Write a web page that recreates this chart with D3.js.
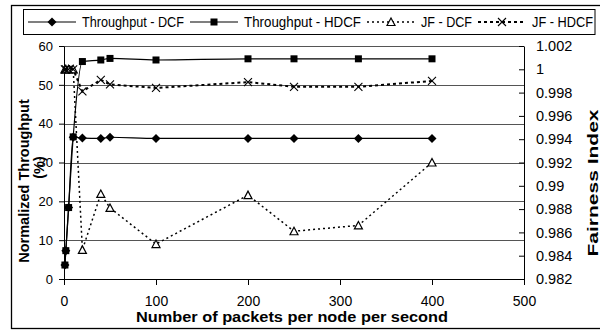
<!DOCTYPE html>
<html>
<head>
<meta charset="utf-8">
<script src="https://cdn.jsdelivr.net/npm/d3@7"></script>
<style>
  body { margin: 0; background: #fff; }
  svg text { font-family: "Liberation Sans", Arial, sans-serif; fill: #000; }
</style>
</head>
<body>
<div class="chart"></div>
<script>
// packets per node per second
var loads = [1, 2, 5, 10, 20, 40, 50, 100, 200, 250, 320, 400];
// normalized throughput (%)
var tputDCF  = [3.6, 7.3, 18.4, 36.5, 36.3, 36.2, 36.5, 36.2, 36.2, 36.2, 36.2, 36.2];
var tputHDCF = [3.6, 7.3, 18.4, 36.6, 56.0, 56.4, 56.8, 56.4, 56.7, 56.7, 56.7, 56.7];
// fairness index
var jfDCF  = [1.0, 1.0, 1.0, 1.0, 0.9845, 0.9893, 0.9881, 0.9850, 0.9892, 0.9861, 0.9866, 0.9920];
var jfHDCF = [1.0, 1.0, 1.0, 1.0, 0.9981, 0.9991, 0.9987, 0.9984, 0.9989, 0.9985, 0.9985, 0.9990];

var xTicks = [0, 100, 200, 300, 400, 500];
var leftTicks = [0, 10, 20, 30, 40, 50, 60];
var rightTicks = [0.982, 0.984, 0.986, 0.988, 0.99, 0.992, 0.994, 0.996, 0.998, 1, 1.002];
var rightTickLabels = ["0.982", "0.984", "0.986", "0.988", "0.99", "0.992", "0.994", "0.996", "0.998", "1", "1.002"];
var seriesNames = ["Throughput - DCF", "Throughput - HDCF", "JF - DCF", "JF - HDCF"];

var svg = d3.select(".chart").append("svg")
    .attr("width", 600)
    .attr("height", 331);

// outer chart frame
svg.append("rect")
    .attr("x", 11.5).attr("y", 5.5)
    .attr("width", 600).attr("height", 323)
    .attr("fill", "none").attr("stroke", "#000").attr("stroke-width", 1.3);

var x = d3.scaleLinear().domain([0, 500]).range([64, 524]);
var yL = d3.scaleLinear().domain([0, 60]).range([279, 46]);
var yR = d3.scaleLinear().domain([0.982, 1.002]).range([279, 46]);

// gridlines
svg.selectAll(".grid")
    .data(leftTicks.slice(1))
    .enter()
    .append("line")
    .attr("x1", x(0)).attr("x2", x(500))
    .attr("y1", function (d) { return Math.round(yL(d)) + 0.5; })
    .attr("y2", function (d) { return Math.round(yL(d)) + 0.5; })
    .attr("stroke", "#555").attr("stroke-width", 1);

function styleAxis(g, size) {
    g.selectAll("path, line").attr("stroke", "#000");
    g.selectAll("text").style("font-size", size + "px").attr("font-family", null);
}

svg.append("g")
    .attr("transform", "translate(" + x(0) + ",0)")
    .call(d3.axisLeft(yL).tickValues(leftTicks).tickSize(5).tickSizeOuter(0).tickPadding(6))
    .call(styleAxis, 13);

svg.append("g")
    .attr("transform", "translate(" + x(500) + ",0)")
    .call(d3.axisRight(yR).tickValues(rightTicks).tickSizeInner(-5).tickSizeOuter(0).tickPadding(12)
        .tickFormat(function (d, i) { return rightTickLabels[i]; }))
    .call(styleAxis, 14.5);

svg.append("g")
    .attr("transform", "translate(0," + yL(0) + ")")
    .call(d3.axisBottom(x).tickValues(xTicks).tickSize(6).tickSizeOuter(0).tickPadding(11))
    .call(styleAxis, 14);

// axis titles
svg.append("text")
    .attr("transform", "translate(29,181) rotate(-90)")
    .attr("text-anchor", "middle")
    .style("font-size", "14.5px").style("font-weight", "bold")
    .text("Normalized Throughput");
svg.append("text")
    .attr("transform", "translate(43.7,167.5) rotate(-90)")
    .attr("text-anchor", "middle")
    .style("font-size", "14.5px").style("font-weight", "bold")
    .text("(%)");
svg.append("text")
    .attr("transform", "translate(598,183) rotate(-90)")
    .attr("text-anchor", "middle")
    .attr("textLength", 147).attr("lengthAdjust", "spacingAndGlyphs")
    .style("font-size", "15px").style("font-weight", "bold")
    .text("Fairness Index");
svg.append("text")
    .attr("x", 292).attr("y", 321.5)
    .attr("text-anchor", "middle")
    .attr("textLength", 312).attr("lengthAdjust", "spacingAndGlyphs")
    .style("font-size", "14px").style("font-weight", "bold")
    .text("Number of packets per node per second");

// series
var series = [
    { vals: tputDCF,  y: yL, dash: null,  width: 1.2, marker: "diamond",  curve: d3.curveMonotoneX },
    { vals: tputHDCF, y: yL, dash: null,  width: 1.2, marker: "square",   curve: d3.curveMonotoneX },
    { vals: jfDCF,    y: yR, dash: "2,3", width: 1.5, marker: "triangle", curve: d3.curveLinear },
    { vals: jfHDCF,   y: yR, dash: "3,3", width: 2,   marker: "cross",    curve: d3.curveLinear }
];

function drawMarker(g, type, cx, cy) {
    if (type === "diamond") {
        g.append("path")
            .attr("d", "M" + cx + "," + (cy - 4.5) + "L" + (cx + 4.5) + "," + cy + "L" + cx + "," + (cy + 4.5) + "L" + (cx - 4.5) + "," + cy + "Z")
            .attr("fill", "#000");
    } else if (type === "square") {
        g.append("rect")
            .attr("x", cx - 3.5).attr("y", cy - 3.5)
            .attr("width", 7).attr("height", 7)
            .attr("fill", "#000");
    } else if (type === "triangle") {
        g.append("path")
            .attr("d", "M" + cx + "," + (cy - 4) + "L" + (cx + 4) + "," + (cy + 3.5) + "L" + (cx - 4) + "," + (cy + 3.5) + "Z")
            .attr("fill", "#fff").attr("stroke", "#000").attr("stroke-width", 1.2);
    } else {
        g.append("path")
            .attr("d", "M" + (cx - 4) + "," + (cy - 4) + "L" + (cx + 4) + "," + (cy + 4) + "M" + (cx + 4) + "," + (cy - 4) + "L" + (cx - 4) + "," + (cy + 4))
            .attr("stroke", "#000").attr("stroke-width", 1.1);
    }
}

series.forEach(function (s) {
    var line = d3.line()
        .x(function (d, i) { return x(loads[i]); })
        .y(function (d) { return s.y(d); })
        .curve(s.curve);
    svg.append("path")
        .datum(s.vals)
        .attr("d", line)
        .attr("fill", "none")
        .attr("stroke", "#000")
        .attr("stroke-width", s.width)
        .attr("stroke-dasharray", s.dash);
    var g = svg.append("g");
    s.vals.forEach(function (v, i) {
        drawMarker(g, s.marker, x(loads[i]), s.y(v));
    });
});

// legend
svg.append("rect")
    .attr("x", 23.5).attr("y", 9.5)
    .attr("width", 571.5).attr("height", 25)
    .attr("fill", "#fff").attr("stroke", "#000").attr("stroke-width", 1);

var legendText = [102, 117, 51, 61];
var lx = 28;
series.forEach(function (s, i) {
    var lg = svg.append("g");
    lg.append("line")
        .attr("x1", lx).attr("x2", lx + 48)
        .attr("y1", 22).attr("y2", 22)
        .attr("stroke", "#000")
        .attr("stroke-width", s.width)
        .attr("stroke-dasharray", s.dash);
    drawMarker(lg, s.marker, lx + 24, 22);
    lg.append("text")
        .attr("x", lx + 54).attr("y", 27)
        .attr("textLength", legendText[i]).attr("lengthAdjust", "spacingAndGlyphs")
        .style("font-size", "14px")
        .text(seriesNames[i]);
    lx = lx + 54 + legendText[i] + 6;
});
</script>
</body>
</html>
